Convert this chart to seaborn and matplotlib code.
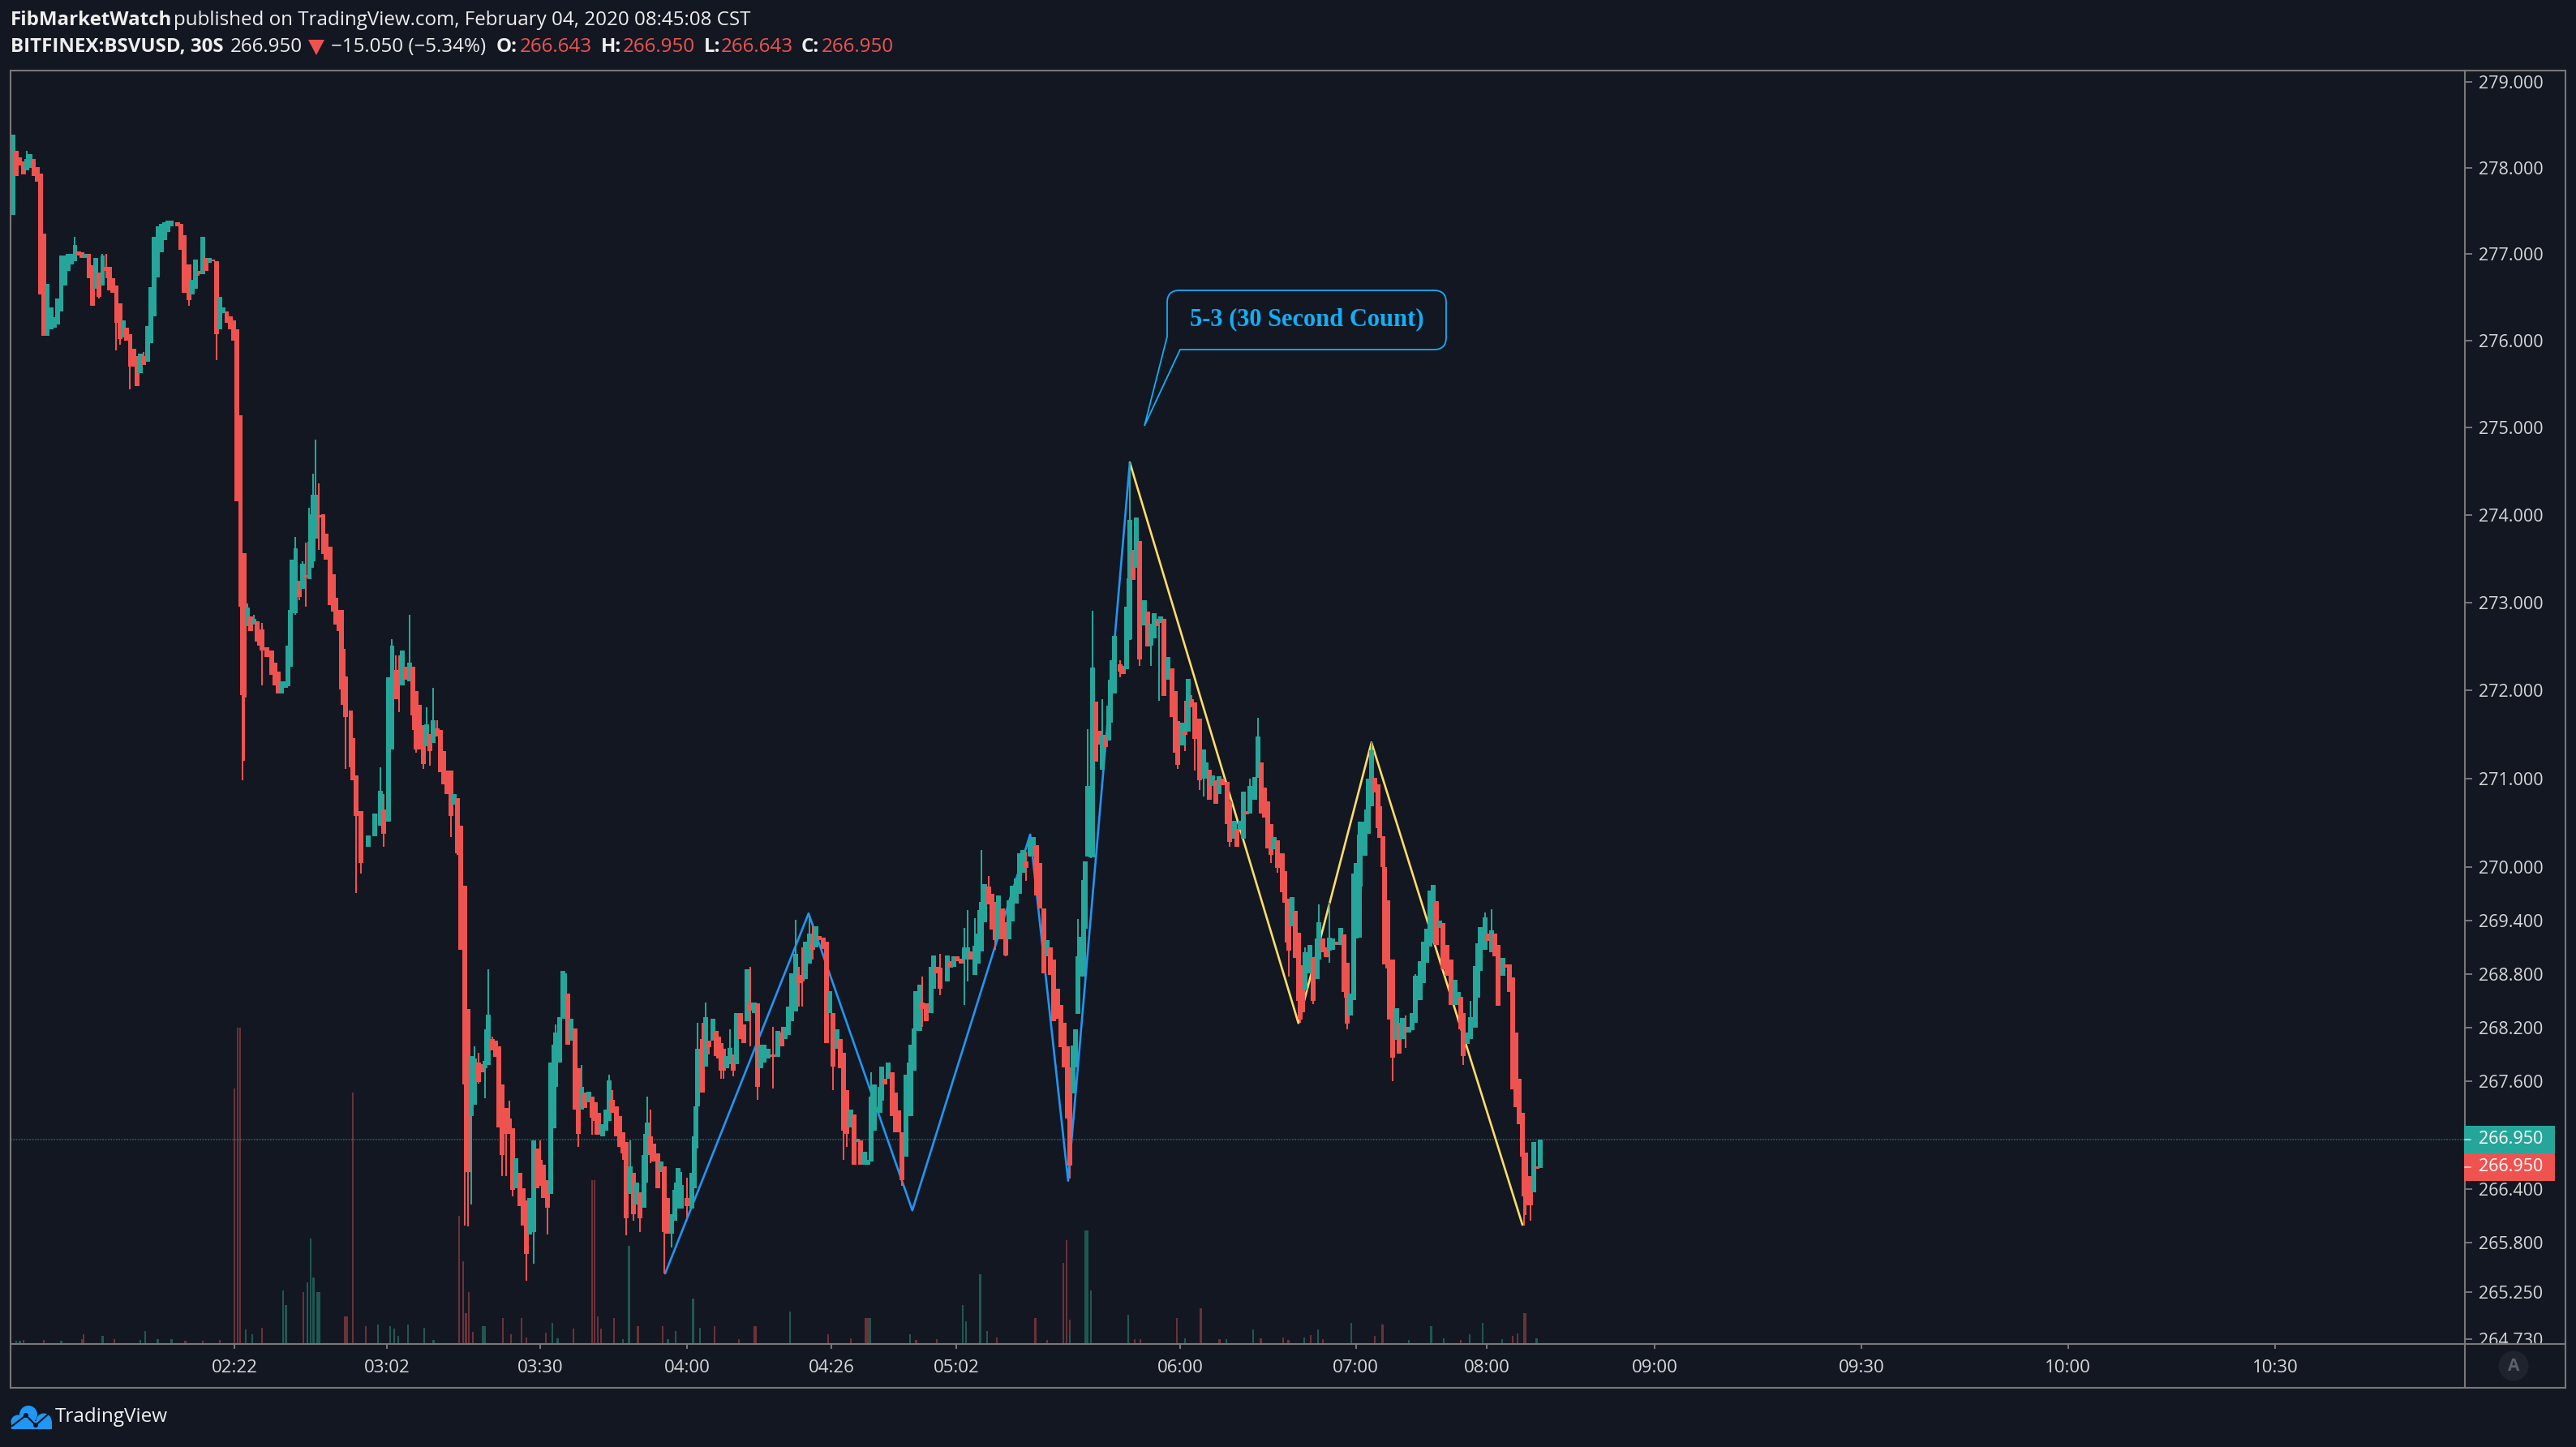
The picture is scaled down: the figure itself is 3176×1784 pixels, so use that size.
import numpy as np
import pandas as pd
import seaborn as sns
import matplotlib
matplotlib.use("Agg")
import matplotlib.pyplot as plt
from matplotlib.path import Path
from matplotlib.patches import PathPatch, Rectangle, Circle, Polygon
from matplotlib.ticker import FixedLocator, FixedFormatter, NullLocator

BG = "#131722"
UP = "#26a69a"
DOWN = "#ef5350"
BORDER = "#787878"
LABEL = "#d6d7d9"

# ---- candles: bar number, open, close -------------------------------------
bar = [0,1,2,3,4,5,6,7,8,9,10,11,12,13,14,15,16,17,18,19,20,21,22,23,24,25,26,27,28,29,30,31,32,33,34,35,36,37,38,39,
       40,41,42,43,44,45,46,47.8,48.7,49.6,51,52,53,54,55,56,57,58,59,60,61,62,63,64,65,66,66.5,67,68,69,70,70.8,71.5,72.2,73.6,75,76,77,78,79,
       79.8,80.5,81,82,83,84,85,86,86.6,87,87.8,88.7,90,90.8,92,93,93.6,94.6,95.3,95.8,96.5,98,98.6,99.5,101,103,105,106.5,107.5,109,110,111,112,113,114,115,
       116,117,118,119,120,121,122,123,124,125,126,127,128,129,130,131,131.5,132,133,134,135,136,137,138,139,140,141,142,143,144,145,146,147,148,149,150,
       151,152,153,154,155,156,157,157.5,158.5,159.5,160,161,162,163,164,165,166,167,168,169,170,171,172,173,174,175,176,177,178,179,180,181,182,183,183.5,184,
       185,186,187,188,189,190,191,192,193,194,195.5,197,197.7,198.2,198.7,200,201,202,203,204,204.7,205.4,206.1,207,208,209,210,211,212,213,214,215,216,217,
       218,219,220.5,222,223,224,225,226,227,228,229,230,231,232,233,234,235,236,237,238,239,240,241,242,243,244,245,246,247,248,249,250,251.5,252,253,254,255,256,
       257,258,259,260,260.5,261.5,262,263,263.8,265,266.4,267,268,269,271,272,273,274,275,276,277,278,279,280,281,282,283,284,285,286,287,288,289,290,291,292,
       293,294,295,296,297,298,299,300,301,302,303,304,305,306,306.6,307.5,308.3,309,309.9,310.6,311,311.7,312.7,313.2,314.1,315,316,316.9,317.9,318.3,318.8,319.5,321.2,322.1,323,323.7,
       324,325,325.9,326.8,328.2,329.2,330.1,331,332,332.9,333.9,335,336.2,337.2,337.9,339.3,340,340.9,341.9,342.8,344.2,345.4,346.1,347,348,348.9,349.9,350.8,352.2,352.9,354.3,355,356,356.9,357.9,358.8,
       360.2,361.2,362.1,363,364,364.9,365.9,366.8,368.2,368.9,369.6,370.1,371,372,372.9,373.4,374.1,374.8,376.2,377.2,378.3,378.8,380,380.9,381.9,382.8,384.2,385.2,386.1,386.8,387.05,388,388.9,389.7,390.5,390.8,
       392.2,392.7,393.2,394.1,395.05,396,396.5,397.4,397.9,398.8,399.3,400.2,401.4,402.1,403,404,404.9,405.9,406.8,408.2,409.2,410.1,411,412,412.9,413.9,414.8,416,417.2,418.3,419.3,420,420.7,421.9,422.8,424.2,
       424.9,425.6,427,428,428.9,429.9,430.8,432.2,433.2,434.1,435,436,436.9,437.9,438.4,438.8,440.2,441.2,442.1,443]

open_ = [277.45,278.20,278.12,278.07,277.97,278.00,278.10,278.01,277.93,277.24,276.06,276.13,276.15,276.19,276.34,276.64,276.81,276.88,276.92,277.03,277.02,276.96,277.00,276.87,276.60,276.79,276.64,276.85,276.85,276.72,276.64,276.43,276.04,276.15,276.08,275.91,275.82,275.63,275.82,275.76,
         275.97,276.28,276.73,277.02,277.16,277.26,277.32,277.37,277.35,277.22,276.88,276.53,276.60,276.81,276.77,276.96,276.90,276.94,276.92,276.13,276.32,276.34,276.28,276.23,276.13,275.14,273.56,273.56,272.73,272.84,272.75,272.79,272.69,272.69,272.49,272.45,272.32,272.21,271.97,272.03,
         272.05,272.27,272.88,272.88,273.25,273.16,273.31,273.27,273.40,273.47,273.73,274.00,274.01,273.79,273.64,273.32,273.05,272.92,272.92,272.47,272.16,271.77,271.46,271.04,270.63,270.23,270.35,270.47,270.65,270.51,271.33,272.23,272.10,272.06,272.27,272.10,
         272.27,271.99,271.84,271.61,271.37,271.51,271.40,271.57,271.55,271.31,271.09,271.09,270.71,270.78,270.47,269.79,268.41,268.41,267.21,267.34,267.81,267.79,267.74,267.78,268.07,268.05,267.99,267.56,267.30,267.18,267.07,266.41,266.58,266.41,266.27,265.89,
         265.92,266.85,266.72,266.67,266.50,266.34,267.07,267.54,267.81,268.30,268.30,268.58,268.05,268.19,267.74,267.28,267.47,267.36,267.43,267.36,267.25,266.98,267.05,267.16,267.39,267.32,267.21,267.03,266.92,266.34,266.58,266.23,266.36,266.19,266.47,266.78,
         266.98,266.90,266.79,266.59,266.65,266.30,265.90,266.05,266.18,266.18,266.30,266.18,266.41,266.85,267.32,268.07,267.76,268.05,268.05,268.16,268.10,268.03,267.96,267.74,267.79,267.90,267.79,268.36,268.23,268.27,268.48,268.36,268.47,267.74,
         267.81,267.85,267.90,267.87,268.14,268.07,268.12,268.27,268.38,268.79,268.76,268.74,268.92,269.15,269.10,269.23,269.21,269.16,268.36,268.36,267.96,268.07,267.92,267.50,267.08,267.23,266.92,266.94,266.67,266.67,266.70,267.05,267.25,267.38,267.63,267.63,267.70,267.47,
         267.27,267.03,266.76,267.48,267.21,267.72,268.16,268.16,268.48,268.47,268.36,268.63,268.88,268.87,268.72,268.94,268.88,269.00,268.97,268.96,268.96,269.05,268.79,268.92,269.05,269.38,269.78,269.70,269.61,269.19,269.54,269.38,269.19,269.39,269.59,269.70,
         269.94,270.07,270.12,270.12,270.25,270.05,269.54,269.00,269.10,268.96,268.63,268.45,268.25,267.99,267.75,267.46,267.75,268.35,268.77,268.77,269.31,270.12,270.11,270.11,271.87,271.54,271.10,271.50,271.43,271.63,271.97,271.97,272.30,272.28,272.24,272.57,
         272.58,273.56,273.40,273.70,272.74,272.90,272.51,272.59,272.81,272.77,272.81,272.12,272.25,271.99,271.65,271.38,271.54,271.53,271.90,271.86,271.68,271.00,271.00,271.10,270.92,270.98,270.83,271.00,270.96,270.74,270.32,270.43,270.42,270.32,270.63,270.61,
         270.76,271.01,271.18,270.90,270.74,270.49,270.20,270.30,270.16,269.96,269.65,269.64,269.34,269.51,269.26,268.89,268.90,268.62,268.81,268.99,268.74,268.96,269.20,269.10,269.06,269.07,269.16,269.13,269.24,268.93,268.93,268.33,268.51,269.20,269.21,269.78,
         270.13,270.38,270.38,270.69,271.01,270.94,270.69,270.35,270.00,269.63,268.96,268.96,268.06,268.25,268.07,268.19,268.14,268.17,268.25,268.51,268.70,268.93,269.11,269.14,269.62,269.32,269.37,269.13,268.96,268.45,268.45,268.54,268.36,268.02,268.07,268.20,
         268.53,268.83,269.07,269.25,269.04,269.25,269.13,268.78,268.91,268.91,268.76,268.14,267.63,267.25,266.76,266.80,266.54,266.36,266.65,266.63]

close = [278.38,277.90,278.03,277.92,278.10,278.16,277.90,277.84,276.53,276.06,276.66,276.38,276.27,276.49,276.98,276.98,277.00,277.00,277.11,276.98,276.96,277.00,276.72,276.40,276.96,276.51,276.98,276.81,276.58,276.55,276.21,276.02,276.23,276.00,275.70,275.70,275.48,275.85,275.72,276.17,
         276.62,277.20,277.32,277.35,277.37,277.39,277.39,277.32,277.05,276.55,276.47,276.70,276.94,276.77,277.20,276.81,276.96,276.92,276.08,276.51,276.38,276.21,276.13,276.00,274.16,272.95,271.95,271.92,272.94,272.68,272.81,272.56,272.51,272.45,272.38,272.18,272.06,271.97,272.10,272.10,
         272.51,272.92,273.49,273.62,273.06,273.44,273.29,273.69,274.01,274.23,274.23,273.97,273.55,273.49,272.97,272.90,272.75,272.68,272.01,271.84,271.70,271.13,270.98,270.58,270.05,270.36,270.61,270.86,270.38,272.15,272.51,271.90,272.07,272.45,272.12,272.32,
         271.72,271.33,271.33,271.17,271.62,271.31,271.66,271.48,271.07,270.94,270.83,270.58,270.83,270.16,269.07,267.56,267.03,266.59,267.88,267.85,267.59,267.70,267.83,268.34,267.94,267.87,267.08,266.78,267.01,267.01,266.39,266.74,266.21,265.99,265.68,266.30,
         266.94,266.41,266.43,266.30,266.19,267.81,268.01,268.14,268.32,268.83,268.81,268.01,268.30,267.28,267.01,267.54,267.30,267.48,267.19,267.16,267.00,267.12,267.28,267.61,267.25,266.98,266.87,266.79,266.07,266.65,266.12,266.47,266.07,266.78,267.01,267.14,
         266.79,266.70,266.41,266.70,265.92,265.90,266.12,266.39,266.63,266.44,266.21,266.58,266.98,267.32,267.96,267.47,268.32,267.98,268.30,267.88,267.85,267.72,267.72,267.88,267.97,267.72,268.36,268.07,268.03,268.85,268.39,268.48,267.54,268.01,
         268.01,267.96,267.87,268.16,267.99,268.21,268.43,268.81,269.03,268.70,268.72,269.16,269.25,269.07,269.34,269.18,269.08,268.03,268.61,267.76,268.18,267.74,267.05,267.01,267.28,266.67,266.96,266.67,266.81,266.72,267.43,267.56,267.54,267.76,267.56,267.81,267.21,267.03,
         267.03,266.50,267.67,267.81,268.01,268.19,268.61,268.68,268.41,268.27,268.88,269.01,268.81,268.63,269.01,268.87,269.00,268.94,268.92,269.10,269.10,268.96,269.12,269.25,269.61,269.81,269.58,269.30,269.18,269.68,269.19,269.01,269.63,269.79,269.87,270.16,
         270.19,269.99,270.30,270.34,269.68,269.54,268.81,269.18,268.79,268.27,268.30,267.98,267.75,267.18,266.66,268.00,268.18,269.00,269.22,269.86,270.07,270.92,270.92,272.26,271.19,271.39,271.50,271.36,271.83,272.12,272.34,272.62,272.21,272.19,272.95,273.28,
         273.94,273.26,273.97,272.35,273.03,272.50,272.76,272.88,272.73,272.84,271.94,272.38,271.70,271.29,271.16,271.63,271.50,272.13,271.81,271.45,270.98,271.33,271.18,270.76,271.04,270.72,271.03,270.93,270.49,270.29,270.52,270.23,270.52,270.85,270.60,270.92,
         271.02,271.48,270.61,270.56,270.21,270.14,270.34,269.99,269.72,269.60,269.15,269.06,269.66,268.98,268.50,268.29,268.37,269.04,269.13,268.50,269.20,269.38,269.04,268.99,269.21,269.20,269.13,269.32,268.60,268.53,268.24,268.58,269.93,270.05,270.37,270.51,
         270.51,270.65,271.00,271.32,270.84,270.44,270.33,270.00,268.91,268.86,268.29,267.86,268.42,267.91,268.31,268.14,268.21,268.36,268.78,268.94,269.16,269.31,269.74,269.80,269.13,269.40,268.85,268.78,268.45,268.73,268.60,268.18,267.88,268.14,268.32,268.89,
         269.14,269.33,269.44,269.17,269.29,269.00,268.44,268.98,268.87,268.60,267.51,267.31,267.12,266.76,266.32,266.22,266.22,266.92,266.62,266.95]

# ---- wicks: bar number and extreme price ----------------------------------
high_bar = [4,18,25,26,27,38,85,82,84,86,87,87.8,88.7,68,70,72.2,106.5,107.5,110,111,112,115,120,122,123,134,135,137,138,139,144,153,157.5,165,173,174,179,184,185,
            192,193,194,195.5,198.7,200,201,208,214,220.5,223,227,228,229,231,232,249,263.8,269,276,277,279,280,281,283,294,309,311.7,313.2,316,324,325,340,341.9,358.8,361.2,374.8,378.8,381.9,394.1,404,406.8,422.8,427,428.9,
            321.2,363.5]
high_value = [278.20,277.20,276.51,277.00,277.00,275.87,273.68,273.75,273.47,274.08,274.47,274.86,274.36,272.99,272.86,272.77,271.13,270.83,272.58,272.40,272.40,272.86,271.81,272.03,271.66,267.99,267.92,268.18,268.85,268.10,267.38,266.94,268.23,267.78,267.67,267.50,266.94,267.43,267.28,
              266.47,266.62,266.59,266.52,268.25,268.25,268.48,268.18,268.88,268.21,268.21,269.41,268.88,269.10,269.45,269.34,267.70,268.77,269.03,269.32,269.52,269.43,269.52,270.19,269.90,270.18,269.42,271.56,272.91,271.90,274.60,273.60,271.88,271.95,271.00,271.69,269.10,269.58,269.60,271.41,268.33,268.80,268.50,269.49,269.53,
              272.34,270.40]
low_bar = [25,27,30,31,34,51,54,59,66.5,67,72.2,82,83,85,88.7,96.5,99.5,101,107.5,112,116,117,119,121,127,129,131,132,133,135,137,142,143,145,149,151,155,164,168,169,177,178,180,182,185,
           189,191,195.5,202,206.1,205.4,209,214,216,220.5,228,229,232,238,241,242,258,263.8,269,276,277,285,288,294,306.6,312.7,326.8,330.1,332.5,337.9,340,342.8,344.2,345.4,352.9,364.9,366.8,370.1,373.4,377.2,381.9,387.05,400.2,404,420.7,438.4,438.8,440.2,321.2]
low_value = [276.49,276.72,275.89,275.95,275.44,276.40,276.75,275.78,270.98,271.20,272.06,272.86,273.03,272.95,273.60,271.11,269.71,269.93,270.23,271.75,271.55,271.29,271.11,271.15,270.34,270.14,265.99,265.98,266.23,267.57,267.41,266.54,266.54,266.32,265.38,265.57,265.89,266.87,267.00,267.00,266.72,265.88,266.05,265.92,266.69,
             265.46,265.75,266.08,267.90,267.63,267.63,267.65,267.99,267.39,267.52,268.43,268.43,268.96,267.50,266.72,266.87,266.43,268.21,268.56,268.45,268.72,269.07,269.00,269.85,266.51,270.10,272.28,272.28,271.88,271.11,271.31,271.09,270.87,270.80,270.23,270.05,269.94,268.77,268.25,268.46,268.93,268.18,267.60,267.97,267.78,265.99,266.11,266.05,272.15]

# ---- volume (height on a volume scale that is not labelled) ----------------
down_vol_bar = [64.2,65.2,65.8,98.6,129.5,130.5,131.4,132.3,133.4,168,168.8,169.6,170.5,174.4,147.5,142.2,96.2,96.8,84.3,102.3,72.2,181.3,188.5,203.5,215,215.6,149,144.5,154.5,162.5,20.5,29.5,20,50,3,9,55,60,
                247.3,247.9,236.5,296.6,304.7,305.6,306.5,337.6,344.6,325.5,327,397.3,395,376.5,438.3,438.9,435,436.5,368.5,210.5,243,262,268,285.5,300,350,362,370,380,420]
down_vol = [315,390,390,310,158,102,38,64,15,202,202,34,19,32,32,32,34,34,64,22,20,22,22,22,22,22,8,12,14,19,12,6,6,4,5,5,4,5,
            32,32,12,32,100,128,30,32,44,6,6,24,10,11,38,38,10,13,8,6,7,5,6,8,5,6,7,5,6,5]
up_vol_bar = [78.3,79.2,85.4,86.3,87.2,88.2,88.8,38.3,26,67.5,69.5,105.8,109.5,110.5,111.8,114.5,119.3,136.2,136.8,156.5,178.7,197.3,199.3,192.3,225.5,1,2,14,37,42,46,122,158,177,190,
              248.6,260.3,275.5,276.5,280.6,282.5,306.5,311.2,311.8,312.7,323.5,359.8,378.6,388.3,411.4,426.4,422.5,374.5,340,352,405,415,432,442]
up_vol = [66,48,76,130,82,64,64,16,10,18,12,24,22,19,10,24,20,22,22,26,121,56,20,16,40,4,4,4,5,6,6,5,7,6,6,
          32,12,48,28,86,16,13,140,140,66,36,18,18,26,22,26,12,8,7,6,5,7,6,7]

# ---- zigzag drawings ------------------------------------------------------
wave_bar = [189.2,230.8,260.9,295.1,306.1,324.0]
wave_price = [265.46,269.48,266.16,270.37,266.49,274.60]
abc_bar = [324.0,372.9,394.1,437.9]
abc_price = [274.60,268.25,271.41,266.00]

# ---- axis ticks -----------------------------------------------------------
y_ticks = [279,278,277,276,275,274,273,272,271,270,269.4,268.8,268.2,267.6,266.4,265.8,265.25,264.73]
x_ticks = [64.2,108.5,152.9,195.5,237.4,273.6,338.6,389.6,427.5,476.2,536.2,596.2,656.2]
x_labels = ["02:22","03:02","03:30","04:00","04:26","05:02","06:00","07:00","08:00","09:00","09:30","10:00","10:30"]
last_price = 266.95

W, H = 3176, 1784
sns.set_theme(style="dark", rc={"figure.facecolor": BG, "axes.facecolor": BG, "axes.grid": False})
plt.rcParams["font.family"] = ["Open Sans", "DejaVu Sans"]

fig = plt.figure(figsize=(W / 100, H / 100), dpi=100, facecolor=BG)
L, R, T, B = 13, 3039, 87, 1657
rect = [L / W, 1 - B / H, (R - L) / W, (B - T) / H]

axv = fig.add_axes(rect, zorder=1, facecolor=BG)
ax = fig.add_axes(rect, zorder=2)
ax.patch.set_visible(False)

XLIM = (-0.706, 711.3)
# volume pane
axv.bar(down_vol_bar, down_vol, width=0.52, color="#6b3237", linewidth=0)
axv.bar(up_vol_bar, up_vol, width=0.52, color="#1f5853", linewidth=0)
axv.set_xlim(*XLIM)
axv.set_ylim(0, B - T)
axv.set_xticks([])
axv.set_yticks([])
for s in axv.spines.values():
    s.set_visible(False)

# price pane
ax.set_yscale("log")
df = pd.DataFrame({"bar": bar, "open": open_, "close": close})
df["top"] = df[["open", "close"]].max(axis=1)
df["bot"] = df[["open", "close"]].min(axis=1)
df["rise"] = df["close"] >= df["open"]

wave = pd.DataFrame({"bar": wave_bar, "price": wave_price})
abc = pd.DataFrame({"bar": abc_bar, "price": abc_price})
sns.lineplot(data=wave, x="bar", y="price", sort=False, estimator=None, color="#2196f3",
             linewidth=1.9, ax=ax, zorder=2)
sns.lineplot(data=abc, x="bar", y="price", sort=False, estimator=None, color="#ffdd66",
             linewidth=1.9, ax=ax, zorder=2)

bars_arr = df["bar"].to_numpy()
def nearest(b):
    return int(np.argmin(np.abs(bars_arr - b)))
for bs, vals, col in ((high_bar, high_value, "top"), (low_bar, low_value, "bot")):
    for b, v in zip(bs, vals):
        i = nearest(b)
        c = UP if df["rise"].iat[i] else DOWN
        ax.vlines(b, df[col].iat[i], v, color=c, linewidth=1.45, zorder=3, capstyle="butt")

ax.bar(df["bar"], df["top"] - df["bot"], bottom=df["bot"], width=1.41,
       color=[UP if r else DOWN for r in df["rise"]], linewidth=0, zorder=4, antialiased=False)

ax.axhline(last_price, color=UP, linewidth=1.2, linestyle=(0, (1, 1)), alpha=0.55, zorder=1)

ax.set_xlim(*XLIM)
ax.set_ylim(264.68, 279.13)
ax.set_xlabel("")
ax.set_ylabel("")
ax.yaxis.tick_right()
ax.yaxis.set_major_locator(FixedLocator(y_ticks))
ax.yaxis.set_major_formatter(FixedFormatter([f"{v:.3f}" for v in y_ticks]))
ax.yaxis.set_minor_locator(NullLocator())
ax.set_xticks(x_ticks)
ax.set_xticklabels(x_labels)
ax.tick_params(axis="y", which="major", right=True, left=False, length=6.5, width=1.4, color=BORDER,
               labelcolor=LABEL, labelsize=15.5, pad=5.5)
ax.tick_params(axis="x", which="major", bottom=True, length=4.5, width=1.4, color=BORDER,
               labelcolor=LABEL, labelsize=16, pad=9)
for s in ax.spines.values():
    s.set_visible(False)

# overlay working in image pixels for the chrome around the chart
ov = fig.add_axes([0, 0, 1, 1], zorder=5)
ov.set_xlim(0, W)
ov.set_ylim(H, 0)
ov.axis("off")
ov.patch.set_visible(False)

ov.add_patch(Rectangle((R + 1, B), 3163 - R - 2, 1711 - B, fc=BG, ec="none", zorder=1))
for xs, ys in (((L, 3163), (T, T)), ((L, 3163), (B, B)), ((L, 3163), (1711, 1711)),
               ((L, L), (T, 1711)), ((R, R), (T, 1711)), ((3163, 3163), (T, 1711))):
    ov.plot(xs, ys, color=BORDER, linewidth=1.5, solid_capstyle="projecting", zorder=2)

# last price tags
ov.add_patch(Rectangle((3038, 1388), 112, 34, fc=UP, ec="none", zorder=3))
ov.add_patch(Rectangle((3038, 1422), 112, 34, fc=DOWN, ec="none", zorder=3))
for y in (1405, 1439):
    ov.plot((3039, 3046), (y, y), color="#ffffff", alpha=0.6, linewidth=1.4, zorder=4)
    ov.text(3056, y, "266.950", color="white", fontsize=15.5, va="center", ha="left", zorder=4)

# auto-scale button
ov.add_patch(Circle((3099, 1684), 18.5, fc="#1f232e", ec="none", zorder=3))
ov.text(3099, 1684, "A", color="#5d606e", fontsize=15, fontweight="bold", ha="center", va="center", zorder=4)

# header
def head(x, y, s, color="#eeeeee", weight="normal"):
    ov.text(x, y, s, color=color, fontsize=17.4, fontweight=weight, ha="left", va="center")
head(13, 25, "FibMarketWatch", weight="bold")
head(214, 25, "published on TradingView.com, February 04, 2020 08:45:08 CST")
head(13, 58, "BITFINEX:BSVUSD, 30S", weight="bold")
head(284, 58, "266.950")
ov.add_patch(Polygon([(380, 49), (400, 49), (390, 68)], closed=True, fc=DOWN, ec="none"))
head(408, 58, "\u221215.050 (\u22125.34%)")
for x1, lab, x2, val in ((612, "O:", 641, "266.643"), (741, "H:", 768, "266.950"),
                         (868, "L:", 889, "266.643"), (988, "C:", 1013, "266.950")):
    head(x1, 58, lab, weight="bold")
    head(x2, 58, val, color=DOWN)

# callout
CALL = "#14aef5"
x0, x1, y0, y1, r = 1439, 1783, 358, 431, 15
verts = [(x0 + r, y0), (x1 - r, y0), (x1, y0), (x1, y0 + r), (x1, y1 - r), (x1, y1), (x1 - r, y1),
         (1455, y1), (1411, 525), (x0, 415), (x0, y0 + r), (x0, y0), (x0 + r, y0)]
codes = [Path.MOVETO, Path.LINETO, Path.CURVE3, Path.CURVE3, Path.LINETO, Path.CURVE3, Path.CURVE3,
         Path.LINETO, Path.LINETO, Path.LINETO, Path.LINETO, Path.CURVE3, Path.CURVE3]
ov.add_patch(PathPatch(Path(verts, codes), fc="none", ec=CALL, linewidth=1.3, joinstyle="miter"))
ov.text(1611, 394, "5-3 (30 Second Count)", color=CALL, fontsize=22, fontweight="bold",
        family="Liberation Serif", ha="center", va="center")

# TradingView mark
LOGO = "#2196f3"
ov.add_patch(Circle((35, 1744), 11, fc=LOGO, ec="none"))
ov.add_patch(Circle((22, 1753), 8.5, fc=LOGO, ec="none"))
ov.add_patch(Circle((54, 1752), 9.5, fc=LOGO, ec="none"))
ov.add_patch(Rectangle((14, 1752), 50, 10, fc=LOGO, ec="none"))
ov.plot((15, 32, 44, 60), (1758, 1745, 1757, 1743), color=BG, linewidth=1.5)
for px, py in ((32, 1745), (44, 1757)):
    ov.add_patch(Circle((px, py), 3, fc=BG, ec="none"))
ov.text(68, 1747, "TradingView", color="#f0f0f0", fontsize=17.5, ha="left", va="center")

fig.savefig("out.png", dpi=100, facecolor=BG)
print(len(bar), len(open_), len(close), len(high_bar), len(high_value), len(low_bar), len(low_value),
      len(down_vol_bar), len(down_vol), len(up_vol_bar), len(up_vol))
